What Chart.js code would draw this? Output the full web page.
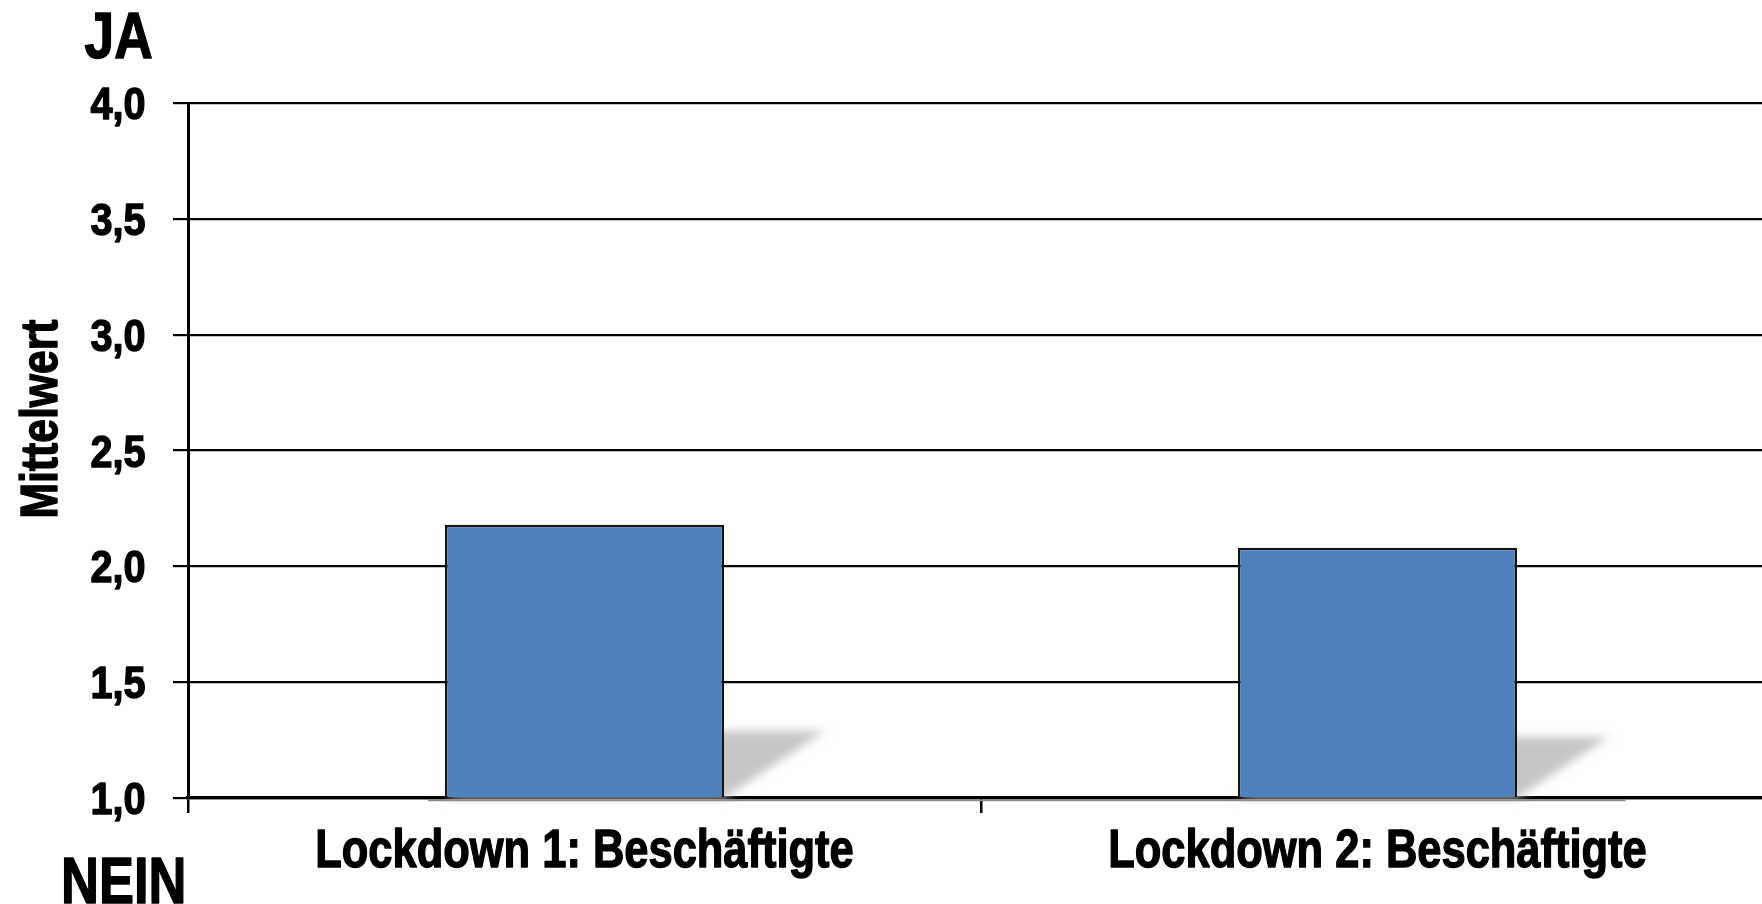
<!DOCTYPE html>
<html>
<head>
<meta charset="utf-8">
<script src="https://cdn.jsdelivr.net/npm/chart.js@4/dist/chart.umd.min.js"></script>
<style>
  html, body { margin: 0; padding: 0; background: #fff; overflow: hidden; }
  #wrap { position: relative; width: 1762px; height: 904px; overflow: hidden; }
  #c { position: absolute; left: 0; top: 0; }
</style>
</head>
<body>
<div id="wrap"><canvas id="c" width="1776" height="904"></canvas></div>
<script>
// Mean agreement per survey wave (scale 1 = NEIN … 4 = JA)
const categories = ['Lockdown 1: Beschäftigte', 'Lockdown 2: Beschäftigte'];
const meanValues = [2.18, 2.08];
const yTickValues = [1.0, 1.5, 2.0, 2.5, 3.0, 3.5, 4.0];
const yTickLabels = ['1,0', '1,5', '2,0', '2,5', '3,0', '3,5', '4,0'];
const yAxisTitle = 'Mittelwert';
const topEndLabel = 'JA';
const bottomEndLabel = 'NEIN';

// Liberation Sans Bold squeezed horizontally gives a narrow grotesque look
const FONT = "'Liberation Sans', Arial, sans-serif";

function narrowText(ctx, text, x, y, size, align, squeeze, angle) {
  ctx.save();
  ctx.translate(x, y);
  if (angle) ctx.rotate(angle);
  ctx.scale(squeeze, 1);
  ctx.font = 'bold ' + size + 'px ' + FONT;
  ctx.fillStyle = '#000';
  ctx.strokeStyle = '#000';
  ctx.lineWidth = 1.4;
  ctx.lineJoin = 'round';
  ctx.textAlign = align;
  ctx.textBaseline = 'alphabetic';
  ctx.fillText(text, 0, 0);
  ctx.strokeText(text, 0, 0);
  ctx.restore();
}

// Soft projected shadow behind each bar, a faint floor line, tick labels and captions
const decorations = {
  id: 'decorations',
  beforeDatasetsDraw(chart) {
    const ctx = chart.ctx;
    const floor = chart.scales.y.getPixelForValue(chart.scales.y.min);
    const bars = chart.getDatasetMeta(0).data;
    ctx.save();
    ctx.filter = 'blur(5px)';
    ctx.fillStyle = '#c6c6c6';
    bars.forEach(bar => {
      const { x, y, width } = bar.getProps(['x', 'y', 'width'], true);
      const h = floor - y;
      const dx = h * 0.37, dy = h * 0.245;
      const l = x - width / 2, r = x + width / 2;
      ctx.beginPath();
      ctx.moveTo(l, floor);
      ctx.lineTo(r, floor);
      ctx.lineTo(r + dx, floor - dy);
      ctx.lineTo(l + dx, floor - dy);
      ctx.closePath();
      ctx.fill();
    });
    ctx.restore();
  },
  afterDraw(chart) {
    const ctx = chart.ctx;
    const xs = chart.scales.x, ys = chart.scales.y;
    const floor = ys.getPixelForValue(ys.min);
    const bars = chart.getDatasetMeta(0).data;
    const first = bars[0], last = bars[bars.length - 1];
    const lastH = floor - last.y;

    ctx.save();
    ctx.strokeStyle = '#8c8c8c';
    ctx.lineWidth = 1.6;
    ctx.beginPath();
    ctx.moveTo(first.x - first.width / 2 - 17, floor + 2.4);
    ctx.lineTo(last.x + last.width / 2 + lastH * 0.37 + 16, floor + 2.4);
    ctx.stroke();
    ctx.restore();

    // value-axis labels
    yTickValues.forEach((v, i) => {
      narrowText(ctx, yTickLabels[i], 145.5, ys.getPixelForValue(v) + 16, 45, 'right', 0.88);
    });
    // category labels
    categories.forEach((c, i) => {
      narrowText(ctx, c, xs.getPixelForValue(i), 867, 53, 'center', 0.82);
    });
    // axis title and scale-end captions
    narrowText(ctx, yAxisTitle, 56.5, 419, 52, 'center', 0.82, -Math.PI / 2);
    narrowText(ctx, topEndLabel, 84.5, 57.5, 65, 'left', 0.82);
    narrowText(ctx, bottomEndLabel, 61, 903, 64, 'left', 0.82);
  }
};

new Chart(document.getElementById('c'), {
  type: 'bar',
  data: {
    labels: categories,
    datasets: [{
      data: meanValues,
      base: yTickValues[0],
      backgroundColor: '#4F81BD',
      borderColor: '#141414',
      borderWidth: 2.5,
      categoryPercentage: 1,
      barPercentage: 0.352
    }]
  },
  options: {
    responsive: false,
    animation: false,
    events: [],
    layout: { padding: { top: 103, right: 2, left: 0, bottom: 0 } },
    plugins: { legend: { display: false }, tooltip: { enabled: false } },
    scales: {
      x: {
        offset: true,
        grid: { display: true, offset: true, drawOnChartArea: false, drawTicks: true, tickLength: 15, color: '#000', lineWidth: 2.5 },
        border: { display: true, color: '#000', width: 3.3 },
        ticks: { display: false },
        afterFit(scale) { scale.height = 106; }
      },
      y: {
        min: 1,
        max: 4,
        afterBuildTicks(scale) { scale.ticks = yTickValues.map(v => ({ value: v })); },
        grid: { color: '#000', lineWidth: 2.2, drawTicks: true, tickLength: 15 },
        border: { display: true, color: '#000', width: 3 },
        ticks: { display: false },
        afterFit(scale) { scale.width = 188; }
      }
    }
  },
  plugins: [decorations]
});
</script>
</body>
</html>
